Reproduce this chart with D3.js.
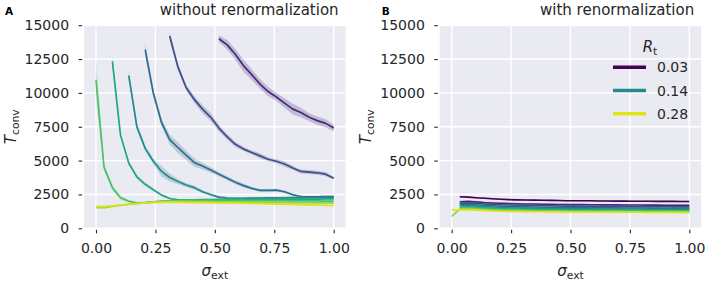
<!DOCTYPE html>
<html>
<head>
<meta charset="utf-8">
<script src="https://cdn.jsdelivr.net/npm/d3@7"></script>
<style>
body { margin: 0; background: #fff; }
svg { font-family: "DejaVu Sans", sans-serif; }
</style>
</head>
<body>
<div id="chart"></div>
<script>
/* sigma_ext grid, 30 points */
var sigmaExt = [0.000, 0.034, 0.069, 0.103, 0.138, 0.172, 0.207, 0.241, 0.276, 0.310,
                0.345, 0.379, 0.414, 0.448, 0.483, 0.517, 0.552, 0.586, 0.621, 0.655,
                0.690, 0.724, 0.759, 0.793, 0.828, 0.862, 0.897, 0.931, 0.966, 1.000];

var rtValues = [0.03, 0.06, 0.08, 0.11, 0.14, 0.17, 0.2, 0.24, 0.28];
var rtLegend = [0.03, 0.14, 0.28];
var xTicks = [0, 0.25, 0.5, 0.75, 1];
var yTicks = [0, 2500, 5000, 7500, 10000, 12500, 15000];
var panelTitles = ["without renormalization", "with renormalization"];

// panel A, T_conv per Rt (every series ends at sigma = 1, starts where it converged)
var noRenorm_003 = [];
var noRenorm_006 = [14000, 13550, 12850, 12000, 11350, 10650, 10100, 9700, 9250, 8800, 8550, 8200, 7950, 7750, 7400];
var noRenorm_008 = [14200, 11900, 10400, 9500, 8800, 8200, 7400, 6750, 6200, 5850, 5600, 5350, 5100, 4950, 4750, 4450, 4200, 4150, 4100, 4000, 3700];
var noRenorm_011 = [13190, 10000, 7800, 6550, 5950, 5400, 4850, 4600, 4300, 4000, 3700, 3400, 3150, 2950, 2800, 2800, 2820, 2700, 2480, 2350, 2330, 2330, 2340, 2350];
var noRenorm_014 = [11270, 7500, 5900, 4950, 4200, 3750, 3450, 3200, 3000, 2700, 2480, 2300, 2230, 2220, 2220, 2230, 2230, 2240, 2240, 2250, 2260, 2260, 2270, 2270, 2280, 2300];
var noRenorm_017 = [12330, 6900, 4800, 3800, 3250, 2850, 2450, 2200, 2100, 2100, 2110, 2120, 2120, 2130, 2130, 2140, 2140, 2140, 2150, 2150, 2150, 2150, 2160, 2160, 2160, 2160, 2170, 2170];
var noRenorm_020 = [10970, 4500, 3000, 2250, 2000, 1870, 1900, 1950, 2000, 2030, 2050, 2060, 2070, 2070, 2070, 2070, 2060, 2060, 2060, 2050, 2050, 2050, 2040, 2040, 2030, 2030, 2020, 2020, 2010, 2000];
var noRenorm_024 = [1550, 1530, 1620, 1700, 1760, 1820, 1880, 1930, 1960, 1980, 1990, 1990, 1980, 1980, 1970, 1960, 1960, 1950, 1950, 1940, 1930, 1930, 1920, 1910, 1900, 1900, 1890, 1880, 1870, 1860];
var noRenorm_028 = [1600, 1610, 1660, 1720, 1780, 1830, 1870, 1900, 1920, 1930, 1920, 1910, 1900, 1890, 1880, 1870, 1860, 1860, 1850, 1830, 1830, 1810, 1790, 1780, 1760, 1750, 1730, 1720, 1700, 1680];

// panel A, confidence band half widths
var ciNo_003 = [];
var ciNo_006 = [250, 350, 400, 450, 400, 350, 350, 300, 350, 400, 350, 300, 300, 300, 250];
var ciNo_008 = [300, 250, 200, 250, 300, 300, 250, 200, 200, 150, 150, 200, 150, 150, 200, 150, 150, 150, 150, 150, 100];
var ciNo_011 = [500, 300, 300, 350, 400, 350, 300, 250, 200, 150, 150, 150, 150, 100, 100, 100, 100, 100, 80, 80, 80, 80, 80, 80];
var ciNo_014 = [350, 250, 200, 200, 400, 300, 200, 150, 150, 120, 100, 80, 80, 80, 80, 80, 80, 80, 80, 80, 80, 80, 80, 80, 80, 80];
var ciNo_017 = [450, 200, 150, 150, 150, 120, 100, 80, 70, 60, 60, 60, 60, 60, 60, 60, 60, 60, 60, 60, 60, 60, 60, 60, 60, 60, 60, 60];
var ciNo_020 = [1600, 250, 200, 150, 120, 100, 80, 70, 60, 60, 60, 60, 60, 60, 60, 60, 60, 60, 60, 60, 60, 60, 60, 60, 60, 60, 60, 60, 60, 60];
var ciNo_024 = [80, 80, 70, 70, 60, 60, 60, 60, 60, 60, 60, 60, 60, 60, 60, 60, 60, 60, 60, 60, 60, 60, 60, 60, 60, 60, 60, 60, 60, 60];
var ciNo_028 = [80, 80, 70, 70, 60, 60, 60, 60, 60, 60, 60, 60, 60, 60, 60, 60, 60, 60, 60, 60, 60, 60, 60, 60, 60, 60, 60, 60, 60, 60];

// panel B, T_conv per Rt
var renorm_003 = [2330, 2300, 2260, 2220, 2180, 2150, 2120, 2100, 2090, 2080, 2070, 2060, 2050, 2040, 2040, 2030, 2030, 2020, 2020, 2010, 2010, 2000, 2000, 2000, 1990, 1990, 1990, 1980, 1980];
var renorm_006 = [1960, 1990, 1950, 1900, 1870, 1850, 1830, 1810, 1800, 1790, 1780, 1770, 1760, 1760, 1750, 1750, 1740, 1740, 1730, 1730, 1720, 1720, 1720, 1710, 1710, 1700, 1700, 1700, 1690];
var renorm_008 = [1850, 1880, 1840, 1800, 1770, 1740, 1720, 1700, 1690, 1680, 1670, 1660, 1650, 1640, 1640, 1630, 1630, 1620, 1620, 1610, 1610, 1600, 1600, 1600, 1590, 1590, 1580, 1580, 1580];
var renorm_011 = [1750, 1780, 1740, 1700, 1660, 1630, 1610, 1590, 1580, 1570, 1560, 1550, 1550, 1540, 1530, 1530, 1520, 1520, 1510, 1510, 1500, 1500, 1500, 1490, 1490, 1480, 1480, 1480, 1470];
var renorm_014 = [1650, 1680, 1640, 1600, 1570, 1540, 1520, 1500, 1490, 1480, 1470, 1460, 1460, 1450, 1450, 1440, 1440, 1430, 1430, 1430, 1420, 1420, 1420, 1410, 1410, 1410, 1400, 1400, 1400];
var renorm_017 = [1570, 1590, 1550, 1510, 1480, 1450, 1430, 1420, 1410, 1400, 1390, 1380, 1380, 1370, 1370, 1360, 1360, 1360, 1350, 1350, 1350, 1340, 1340, 1340, 1340, 1330, 1330, 1330, 1330];
var renorm_020 = [1500, 1520, 1480, 1440, 1410, 1380, 1360, 1350, 1340, 1330, 1320, 1320, 1310, 1310, 1300, 1300, 1300, 1290, 1290, 1290, 1290, 1280, 1280, 1280, 1280, 1270, 1270, 1270, 1270];
var renorm_024 = [880, 1420, 1440, 1400, 1360, 1330, 1310, 1290, 1280, 1270, 1260, 1260, 1250, 1250, 1240, 1240, 1240, 1230, 1230, 1230, 1230, 1220, 1220, 1220, 1220, 1210, 1210, 1210, 1210, 1200];
var renorm_028 = [1350, 1360, 1370, 1340, 1310, 1280, 1260, 1250, 1240, 1230, 1220, 1220, 1210, 1210, 1200, 1200, 1200, 1190, 1190, 1190, 1180, 1180, 1180, 1180, 1170, 1170, 1170, 1170, 1160, 1160];

// panel B, band half width per Rt
var ciRenorm = [50, 50, 50, 50, 50, 50, 50, 60, 60];

var seriesNo = [noRenorm_003, noRenorm_006, noRenorm_008, noRenorm_011, noRenorm_014, noRenorm_017, noRenorm_020, noRenorm_024, noRenorm_028];
var ciNo = [ciNo_003, ciNo_006, ciNo_008, ciNo_011, ciNo_014, ciNo_017, ciNo_020, ciNo_024, ciNo_028];
var seriesRe = [renorm_003, renorm_006, renorm_008, renorm_011, renorm_014, renorm_017, renorm_020, renorm_024, renorm_028];

var width = 708, height = 283;
var yTop = 25.2, yBottom = 228.3;
var textColor = "#262626";

/* viridis, stopping a bit short of the brightest yellow */
function rtColor(i) { return d3.interpolateViridis(0.95 * i / (rtValues.length - 1)); }

var svg = d3.select("#chart").append("svg")
    .attr("width", width)
    .attr("height", height);

/* builds the points for one series; series are right aligned on the sigma grid */
function toPoints(values, ci) {
    var start = sigmaExt.length - values.length;
    return values.map(function(v, k) {
        return {s: sigmaExt[start + k], t: v, ci: Array.isArray(ci) ? ci[k] : ci};
    });
}

function subLabel(sel, main, sub) {
    sel.append("tspan").text(main).style("font-style", "italic");
    sel.append("tspan").text(sub).attr("font-size", "0.72em").attr("dy", "0.28em");
}

function drawPanel(p) {
    var x = d3.scaleLinear().domain([-0.05, 1.05]).range([p.left, p.right]);
    var y = d3.scaleLinear().domain([0, 15000]).range([yBottom, yTop]);

    var g = svg.append("g").attr("class", "panel");

    g.append("rect")
        .attr("x", p.left).attr("y", yTop)
        .attr("width", p.right - p.left).attr("height", yBottom - yTop)
        .attr("fill", "#eaeaf2");

    g.append("clipPath").attr("id", "clip" + p.id)
        .append("rect")
        .attr("x", p.left).attr("y", yTop)
        .attr("width", p.right - p.left).attr("height", yBottom - yTop);

    /* grid */
    g.selectAll(".gx").data(xTicks).enter().append("line")
        .attr("x1", function(d) { return x(d); }).attr("x2", function(d) { return x(d); })
        .attr("y1", yTop).attr("y2", yBottom)
        .attr("stroke", "#fff").attr("stroke-width", 1.4);
    g.selectAll(".gy").data(yTicks).enter().append("line")
        .attr("x1", p.left).attr("x2", p.right)
        .attr("y1", function(d) { return y(d); }).attr("y2", function(d) { return y(d); })
        .attr("stroke", "#fff").attr("stroke-width", 1.4);

    /* bands and lines */
    var plot = g.append("g").attr("clip-path", "url(#clip" + p.id + ")");
    var line = d3.line().x(function(d) { return x(d.s); }).y(function(d) { return y(d.t); });
    var area = d3.area()
        .x(function(d) { return x(d.s); })
        .y0(function(d) { return y(d.t - d.ci); })
        .y1(function(d) { return y(d.t + d.ci); });

    p.series.forEach(function(values, i) {
        if (!values.length) return;
        var pts = toPoints(values, p.ci[i]);
        plot.append("path").datum(pts)
            .attr("d", area)
            .attr("fill", rtColor(i))
            .attr("fill-opacity", 0.25);
        plot.append("path").datum(pts)
            .attr("d", line)
            .attr("fill", "none")
            .attr("stroke", rtColor(i))
            .attr("stroke-width", p.lineWidth)
            .attr("stroke-linejoin", "round");
    });

    /* axes with small offset ticks */
    var yAxis = d3.axisLeft(y).tickValues(yTicks).tickSize(3.5).tickPadding(9.5).tickFormat(d3.format("d"));
    var ya = g.append("g").attr("transform", "translate(" + (p.left - 2) + ",0)").call(yAxis);
    var xAxis = d3.axisBottom(x).tickValues(xTicks).tickSize(3.5).tickPadding(10).tickFormat(d3.format(".2f"));
    var xa = g.append("g").attr("transform", "translate(0," + (yBottom + 1.5) + ")").call(xAxis);
    [ya, xa].forEach(function(a) {
        a.select(".domain").remove();
        a.selectAll(".tick line").attr("stroke", textColor).attr("stroke-width", 1.1);
        a.selectAll("text").attr("fill", textColor).attr("font-size", "14px")
            .attr("font-family", "DejaVu Sans, sans-serif");
    });

    /* titles and labels */
    g.append("text")
        .attr("x", p.right - 7).attr("y", 15)
        .attr("text-anchor", "end")
        .attr("font-size", "15px").attr("fill", textColor)
        .text(p.title);
    g.append("text")
        .attr("x", p.letterX).attr("y", 15)
        .attr("font-size", "10.5px").attr("font-weight", "bold").attr("fill", "#000")
        .text(p.id);

    var yl = g.append("text")
        .attr("transform", "translate(" + (p.left - 68.6) + "," + ((yTop + yBottom) / 2) + ") rotate(-90)")
        .attr("text-anchor", "middle")
        .attr("font-size", "15px").attr("fill", textColor);
    subLabel(yl, "T", "conv");

    var xl = g.append("text")
        .attr("x", (p.left + p.right) / 2).attr("y", 276)
        .attr("text-anchor", "middle")
        .attr("font-size", "15px").attr("fill", textColor);
    subLabel(xl, "\u03c3", "ext");

    if (p.legend) {
        var lt = g.append("text")
            .attr("x", 650).attr("y", 52)
            .attr("text-anchor", "middle")
            .attr("font-size", "15px").attr("fill", textColor);
        subLabel(lt, "R", "t");

        var items = g.selectAll(".leg").data(rtLegend).enter().append("g")
            .attr("transform", function(d, k) { return "translate(0," + (67.3 + k * 23.2) + ")"; });
        items.append("line")
            .attr("x1", 613).attr("x2", 646)
            .attr("stroke", function(d) { return rtColor(rtValues.indexOf(d)); })
            .attr("stroke-width", 3.5);
        items.append("text")
            .attr("x", 657).attr("dy", "0.36em")
            .attr("font-size", "14px").attr("fill", textColor)
            .text(function(d) { return d.toFixed(2); });
    }
}

drawPanel({id: "A", left: 84.1, right: 345.6, title: panelTitles[0], series: seriesNo, ci: ciNo,
           letterX: 5, lineWidth: 1.7, legend: false});
drawPanel({id: "B", left: 439.8, right: 701.2, title: panelTitles[1], series: seriesRe, ci: ciRenorm,
           letterX: 381.7, lineWidth: 1.6, legend: true});
</script>
</body>
</html>
